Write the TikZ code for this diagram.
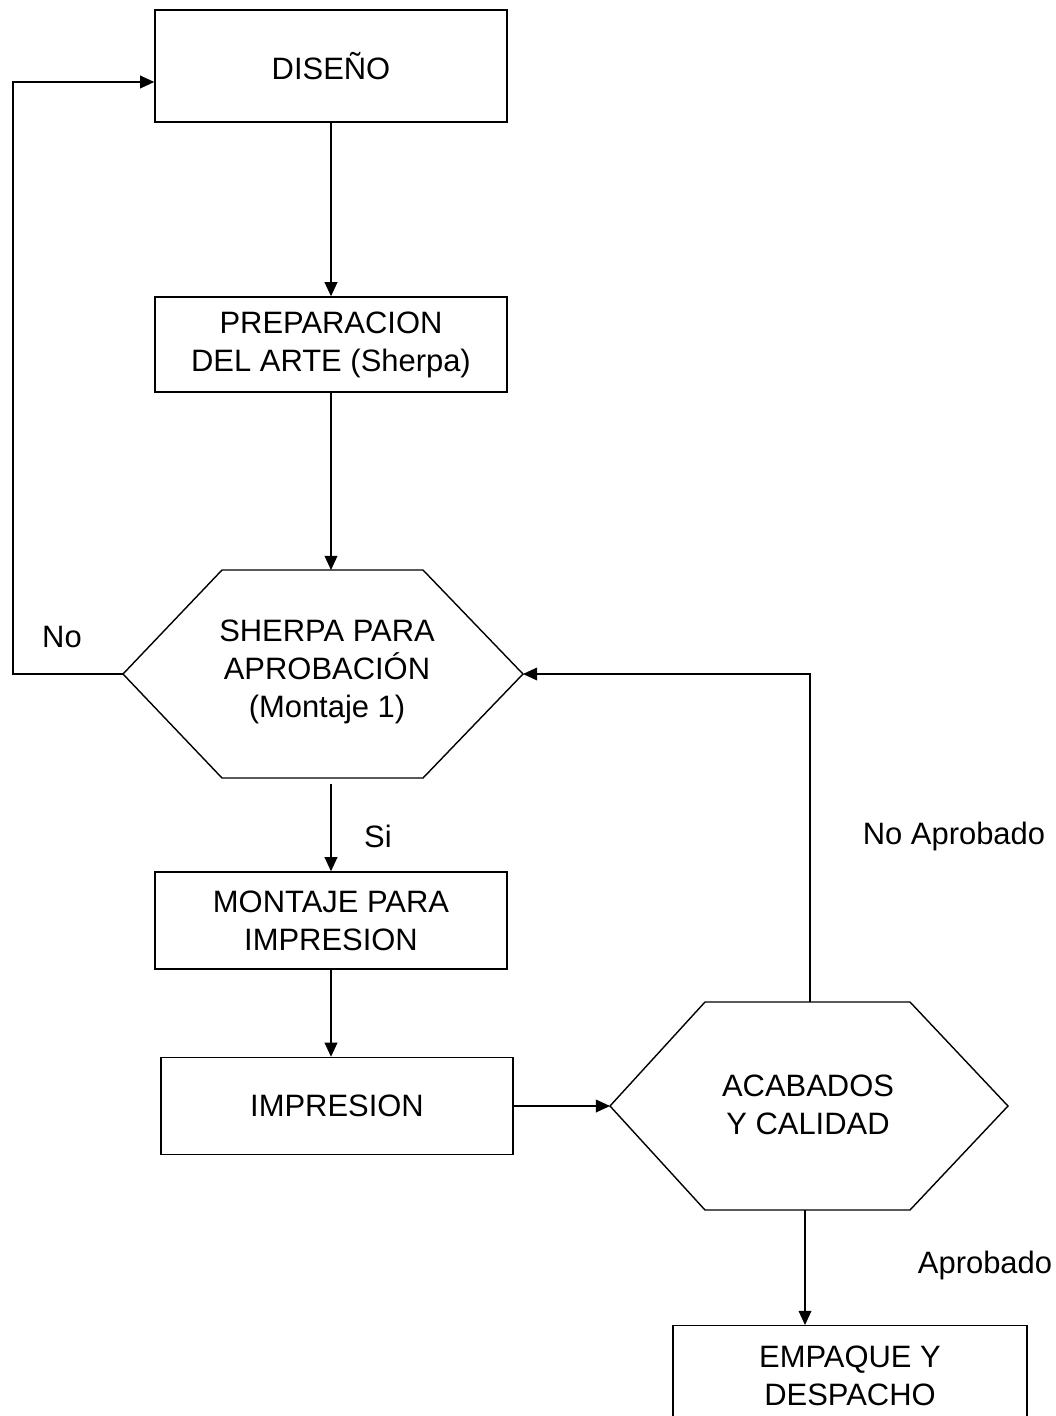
\documentclass[tikz,border=0pt]{standalone}
\usepackage{fontspec}
\setmainfont{Liberation Sans}
\usetikzlibrary{arrows.meta}
\tikzset{
	caja/.style={draw, line width=1pt, align=center, inner sep=0pt, minimum width=8.8cm},
	texto/.style={align=center, inner sep=0pt},
	linea/.style={line width=1pt},
	flecha/.style={line width=1pt, -{Triangle[length=10pt,width=9pt]}},
}

\begin{document}
\begin{tikzpicture}[x=0.025cm, y=-0.025cm, font=\fontsize{22}{27}\selectfont]
		%%%%% START %%%%%
		\clip (0, 0) rectangle (1056, 1416);
		
		% columna izquierda
		\node[caja, minimum height=2.8cm] (diseno) at (331, 66) {DISE\~NO};
		\node[caja, minimum height=2.375cm] (prep) at (331, 344.5) {PREPARACION\\DEL ARTE (Sherpa)};
		\node[caja, minimum height=2.425cm] (montaje) at (331, 920.5) {MONTAJE PARA\\IMPRESION};
		\node[caja, minimum height=2.425cm] (impresion) at (337, 1106) {IMPRESION};
		\node[caja, minimum height=2.5cm, minimum width=8.85cm, anchor=north] (empaque) at (850, 1325) {EMPAQUE Y\\DESPACHO};
		
		% hexagono 1
		\coordinate (h1l) at (123, 674);
		\coordinate (h1tl) at (222, 570);
		\coordinate (h1tr) at (423, 570);
		\coordinate (h1r) at (523, 674);
		\coordinate (h1br) at (423, 778);
		\coordinate (h1bl) at (222, 778);
		\draw[linea] (h1l) -- (h1tl) -- (h1tr) -- (h1r) -- (h1br) -- (h1bl) -- cycle;
		\node[texto] (sherpa) at (327, 672) {SHERPA PARA\\APROBACIÓN\\(Montaje 1)};
		
		% hexagono 2
		\coordinate (h2l) at (610, 1106);
		\coordinate (h2tl) at (705, 1002);
		\coordinate (h2tr) at (910, 1002);
		\coordinate (h2r) at (1008, 1106);
		\coordinate (h2br) at (910, 1210);
		\coordinate (h2bl) at (705, 1210);
		\draw[linea] (h2l) -- (h2tl) -- (h2tr) -- (h2r) -- (h2br) -- (h2bl) -- cycle;
		\node[texto] (acabados) at (808, 1105) {ACABADOS\\Y CALIDAD};
		
		% flechas
		\coordinate (vuelta) at (13, 82);
		\coordinate (sisal) at (331, 784);
		\coordinate (noap) at (810, 1002);
		\coordinate (apsal) at (805, 1210);
		
		\draw[flecha] (diseno.south) -- (prep.north);
		\draw[flecha] (prep.south) -- (prep.south |- h1tl);
		\draw[flecha] (h1l) -- (h1l -| vuelta) |- (diseno.west |- vuelta);
		\draw[flecha] (sisal) -- (montaje.north);
		\draw[flecha] (montaje.south) -- (montaje.south |- impresion.north);
		\draw[flecha] (impresion.east) -- (impresion.east -| h2l);
		\draw[flecha] (noap) |- (h1r);
		\draw[flecha] (apsal) -- (apsal |- empaque.north);
		
		% rotulos
		\node (no) at (62, 637) {No};
		\node (si) at (378, 836) {Si};
		\node (noaprobado) at (954, 836) {No Aprobado};
		\node (aprobado) at (985, 1265) {Aprobado};
		
		%%%%% END %%%%%
\end{tikzpicture}
\end{document}
